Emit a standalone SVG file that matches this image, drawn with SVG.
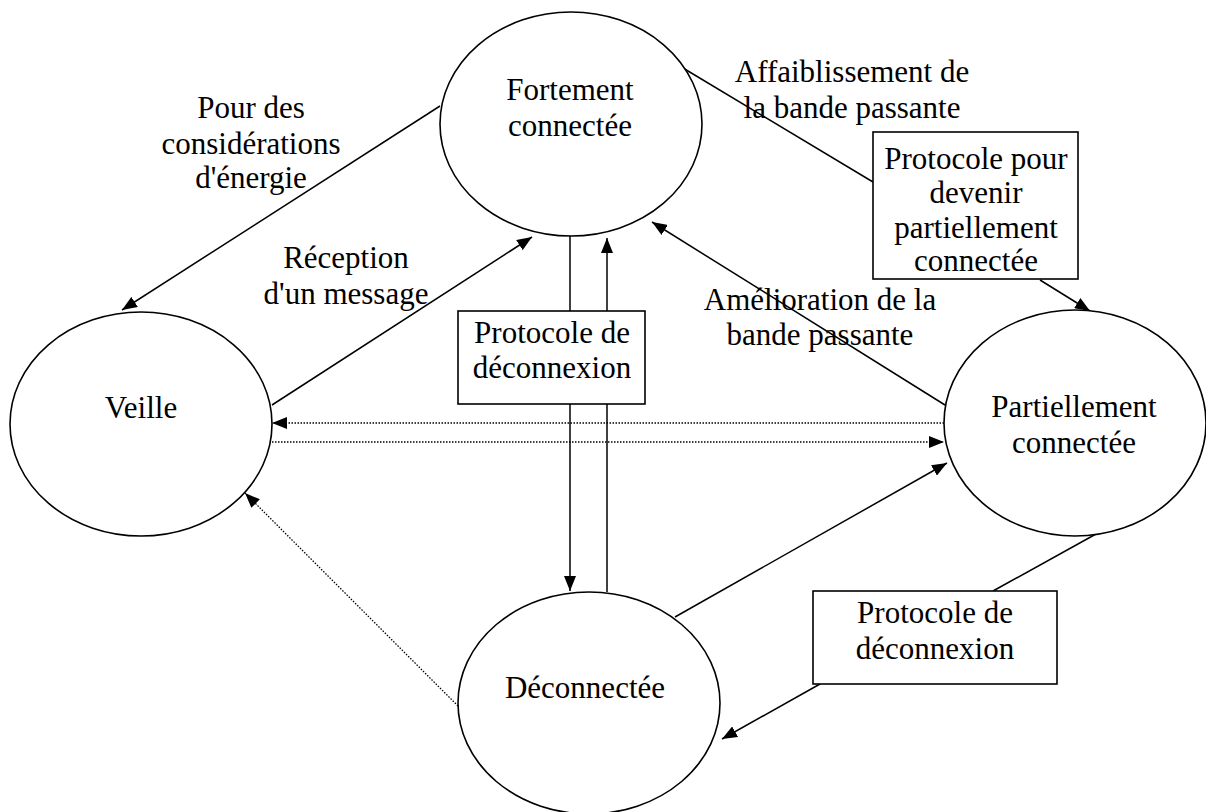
<svg xmlns="http://www.w3.org/2000/svg" width="1206" height="812" viewBox="0 0 1206 812">
<style>
text{font-family:"Liberation Serif","Times New Roman",serif;font-size:31px;fill:#000;text-anchor:middle}
.node{fill:#fff;stroke:#000;stroke-width:1.6}
.box{fill:#fff;stroke:#000;stroke-width:1.6}
.c{fill:none;stroke:#000;stroke-width:1.5}
.d{fill:none;stroke:#000;stroke-width:1.3;stroke-dasharray:1.5 1.5}
</style>
<defs>
<marker id="ah" markerUnits="userSpaceOnUse" markerWidth="16" markerHeight="12" refX="15" refY="6" orient="auto">
<path d="M0,0 L15,6 L0,12 z" fill="#000"/>
</marker>
</defs>
<rect width="1206" height="812" fill="#fff"/>
<g id="connectors">
<line class="c" x1="440" y1="106" x2="122" y2="310" marker-end="url(#ah)"/>
<line class="c" x1="272" y1="405" x2="532" y2="237" marker-end="url(#ah)"/>
<line class="c" x1="570" y1="235" x2="570" y2="311"/>
<line class="c" x1="570" y1="404" x2="570" y2="591" marker-end="url(#ah)"/>
<line class="c" x1="607" y1="592" x2="607" y2="238" marker-end="url(#ah)"/>
<line class="c" x1="683" y1="68" x2="873" y2="182"/>
<line class="c" x1="1040" y1="280" x2="1090" y2="311" marker-end="url(#ah)"/>
<line class="c" x1="945" y1="405" x2="652" y2="222" marker-end="url(#ah)"/>
<line class="c" x1="675" y1="617" x2="947" y2="463" marker-end="url(#ah)"/>
<line class="c" x1="1096" y1="534" x2="993" y2="591"/>
<line class="c" x1="820" y1="684" x2="722" y2="739" marker-end="url(#ah)"/>
<line class="d" x1="944" y1="423" x2="272" y2="423" marker-end="url(#ah)"/>
<line class="d" x1="272" y1="442" x2="944" y2="442" marker-end="url(#ah)"/>
<line class="d" x1="458" y1="706" x2="245" y2="493" marker-end="url(#ah)"/>
</g>
<g id="fortement">
<ellipse class="node" cx="571" cy="124" rx="131" ry="112"/>
<text x="570" y="100">Fortement</text>
<text x="570" y="136">connectée</text>
</g>
<g id="veille">
<ellipse class="node" cx="141" cy="424" rx="131" ry="112"/>
<text x="141" y="418">Veille</text>
</g>
<g id="partiellement">
<ellipse class="node" cx="1075" cy="423" rx="131" ry="113"/>
<text x="1074" y="417">Partiellement</text>
<text x="1074" y="453">connectée</text>
</g>
<g id="deconnectee">
<ellipse class="node" cx="589" cy="703" rx="131" ry="111"/>
<text x="585" y="698">Déconnectée</text>
</g>
<g id="box-deconnexion-1">
<rect class="box" x="458" y="311" width="187" height="93"/>
<text x="552" y="343">Protocole de</text>
<text x="552" y="378">déconnexion</text>
</g>
<g id="box-partiel">
<rect class="box" x="873" y="132" width="205" height="147"/>
<text x="976" y="169">Protocole pour</text>
<text x="976" y="203">devenir</text>
<text x="976" y="238">partiellement</text>
<text x="976" y="271">connectée</text>
</g>
<g id="box-deconnexion-2">
<rect class="box" x="813" y="591" width="244" height="93"/>
<text x="935" y="623">Protocole de</text>
<text x="935" y="659">déconnexion</text>
</g>
<g id="labels">
<text x="251" y="118">Pour des</text>
<text x="251" y="154">considérations</text>
<text x="251" y="188">d'énergie</text>
<text x="346" y="268">Réception</text>
<text x="346" y="304">d'un message</text>
<text x="852" y="82">Affaiblissement de</text>
<text x="852" y="118">la bande passante</text>
<text x="820" y="310">Amélioration de la</text>
<text x="820" y="345">bande passante</text>
</g>
</svg>
